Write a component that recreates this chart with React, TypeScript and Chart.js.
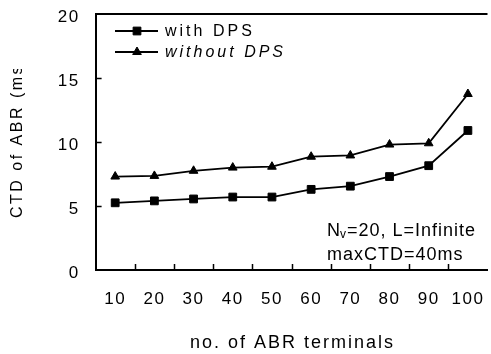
import React, { useEffect, useRef } from 'react';
import { Chart, registerables } from 'chart.js';
import { drawPoint } from 'chart.js/helpers';

Chart.register(...registerables);

const categories = ['10', '20', '30', '40', '50', '60', '70', '80', '90', '100'];
const withDPS = [5.25, 5.4, 5.55, 5.7, 5.7, 6.3, 6.55, 7.3, 8.15, 10.9];
const withoutDPS = [7.3, 7.35, 7.75, 8.0, 8.07, 8.85, 8.95, 9.8, 9.9, 13.75];
const seriesNames = ['with DPS', 'without DPS'];
const yTicks = [0, 5, 10, 15, 20];
const xTitle = 'no. of ABR terminals';
const yTitle = 'CTD of ABR (ms)';
const noteMain = 'N';
const noteSub = 'v';
const noteRest = '=20, L=Infinite';
const noteLine2 = 'maxCTD=40ms';

const W = 494;
const H = 354;
const FONT = '"Liberation Sans", Arial, sans-serif';

const decor = {
  id: 'decor',
  beforeDraw(chart: any) {
    chart.ctx.letterSpacing = '1.5px';
  },
  afterDraw(chart: any) {
    const { ctx, chartArea: a, scales } = chart;
    const xs = scales.x;
    const ys = scales.y;
    ctx.save();
    ctx.strokeStyle = '#000';
    ctx.fillStyle = '#000';
    // top border
    ctx.lineWidth = 2;
    ctx.beginPath();
    ctx.moveTo(a.left, a.top);
    ctx.lineTo(a.right, a.top);
    ctx.stroke();
    // inward tick marks
    ctx.lineWidth = 1.5;
    ctx.beginPath();
    for (const v of yTicks.slice(1, -1)) {
      const py = Math.round(ys.getPixelForValue(v)) + 0.5;
      ctx.moveTo(a.left, py);
      ctx.lineTo(a.left + 6, py);
    }
    for (let i = 1; i < categories.length; i++) {
      const px = Math.round((xs.getPixelForValue(i - 1) + xs.getPixelForValue(i)) / 2) + 0.5;
      ctx.moveTo(px, a.bottom);
      ctx.lineTo(px, a.bottom - 6);
    }
    ctx.stroke();

    // x title
    ctx.letterSpacing = '2px';
    ctx.font = `18px ${FONT}`;
    ctx.textAlign = 'center';
    ctx.textBaseline = 'middle';
    ctx.fillText(xTitle, (a.left + a.right) / 2 + 1, 343);

    // y title (clipped at top as in the original)
    ctx.save();
    ctx.beginPath();
    ctx.rect(0, 69, 60, 300);
    ctx.clip();
    ctx.translate(18, 218);
    ctx.rotate(-Math.PI / 2);
    ctx.font = `16px ${FONT}`;
    ctx.letterSpacing = '2.5px';
    ctx.textAlign = 'left';
    ctx.textBaseline = 'middle';
    ctx.fillText(yTitle, 0, 0);
    ctx.restore();

    // legend
    const legendY = [31, 52];
    chart.data.datasets.forEach((ds: any, i: number) => {
      const ly = legendY[i];
      ctx.lineWidth = 1.8;
      ctx.beginPath();
      ctx.moveTo(115, ly);
      ctx.lineTo(158, ly);
      ctx.stroke();
      ctx.lineWidth = 1;
      drawPoint(ctx, { pointStyle: ds.pointStyle, radius: ds.pointRadius, rotation: 0, borderWidth: 1 }, 137, ly);
      ctx.font = `${i === 1 ? 'italic ' : ''}16px ${FONT}`;
      ctx.letterSpacing = '3px';
      ctx.textAlign = 'left';
      ctx.textBaseline = 'middle';
      ctx.fillText(seriesNames[i], 165, ly + 1);
    });

    // annotation
    ctx.letterSpacing = '1px';
    ctx.textAlign = 'left';
    ctx.textBaseline = 'middle';
    ctx.font = `18px ${FONT}`;
    let nx = 327;
    ctx.fillText(noteMain, nx, 231);
    nx += ctx.measureText(noteMain).width;
    ctx.font = `12px ${FONT}`;
    ctx.fillText(noteSub, nx - 1, 235);
    nx += ctx.measureText(noteSub).width - 1;
    ctx.font = `18px ${FONT}`;
    ctx.fillText(noteRest, nx, 231);
    ctx.fillText(noteLine2, 327, 255);

    ctx.restore();
    ctx.letterSpacing = '0px';
  },
};

export default function App() {
  const ref = useRef<HTMLCanvasElement | null>(null);
  useEffect(() => {
    const canvas = ref.current;
    if (!canvas) return;
    const chart = new Chart(canvas, {
      type: 'line',
      data: {
        labels: categories,
        datasets: [
          {
            label: seriesNames[0],
            data: withDPS,
            borderColor: '#000',
            backgroundColor: '#000',
            borderWidth: 1.8,
            pointStyle: 'rect',
            pointRadius: 5.5,
            pointBorderWidth: 1,
            pointBackgroundColor: '#000',
            pointBorderColor: '#000',
            tension: 0,
          },
          {
            label: seriesNames[1],
            data: withoutDPS,
            borderColor: '#000',
            backgroundColor: '#000',
            borderWidth: 1.8,
            pointStyle: 'triangle',
            pointRadius: 5,
            pointBorderWidth: 1,
            pointBackgroundColor: '#000',
            pointBorderColor: '#000',
            tension: 0,
          },
        ],
      },
      options: {
        responsive: false,
        animation: false,
        devicePixelRatio: 1,
        layout: { padding: { top: 14, left: 0, right: 1.2, bottom: 0 } },
        plugins: { legend: { display: false }, tooltip: { enabled: false } },
        scales: {
          x: {
            type: 'category',
            offset: true,
            grid: { drawOnChartArea: false, drawTicks: false },
            border: { display: true, color: '#000', width: 2 },
            ticks: {
              color: '#000',
              font: { family: FONT, size: 17 },
              padding: 19,
              maxRotation: 0,
              autoSkip: false,
            },
            afterFit(s: any) {
              s.height = 84;
              s.paddingLeft = 0;
              s.paddingRight = 0;
            },
          },
          y: {
            min: 0,
            max: 20,
            grid: { drawOnChartArea: false, drawTicks: false },
            border: { display: true, color: '#000', width: 2 },
            ticks: {
              stepSize: 5,
              color: '#000',
              font: { family: FONT, size: 17 },
              padding: 16,
              labelOffset: 3,
            },
            afterFit(s: any) {
              s.width = 95.6;
              s.paddingTop = 0;
              s.paddingBottom = 0;
            },
          },
        },
      },
      plugins: [decor],
    } as any);
    return () => chart.destroy();
  }, []);
  return (
    <div style={{ position: 'absolute', left: 0, top: 0, width: 491, height: 354, overflow: 'hidden', background: '#fff' }}>
      <canvas ref={ref} width={W} height={H} style={{ display: 'block', width: W, height: H }} />
    </div>
  );
}
